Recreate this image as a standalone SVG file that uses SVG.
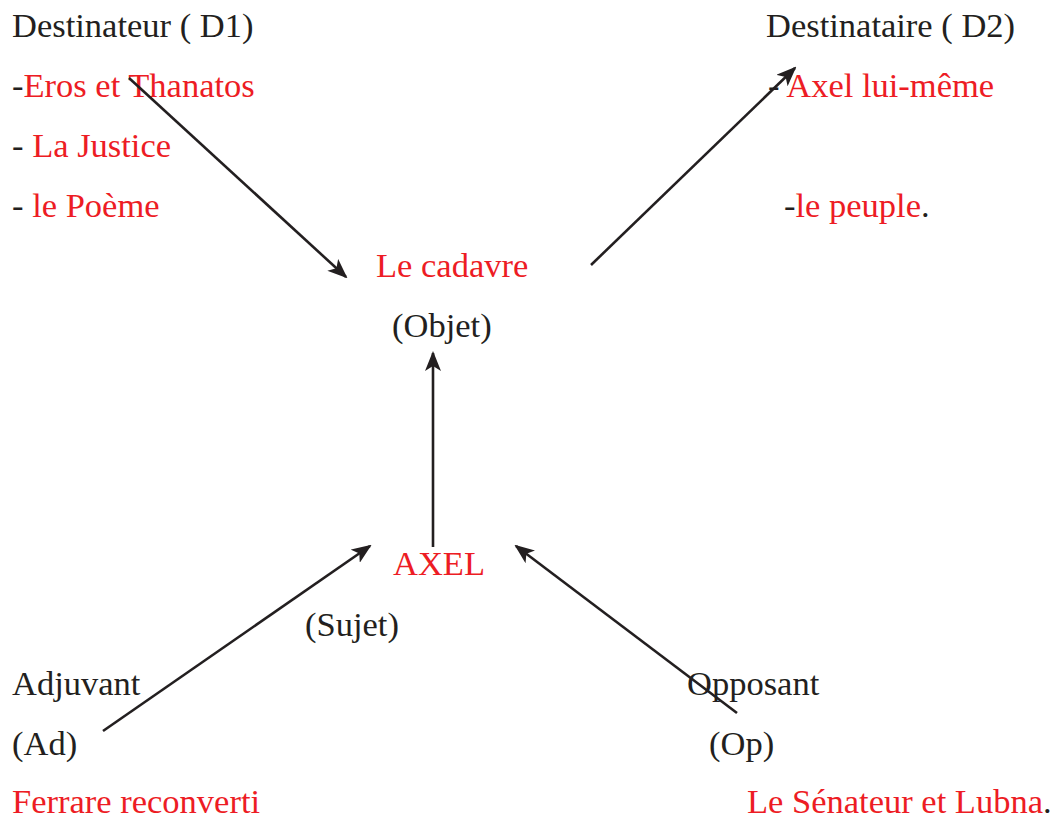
<svg xmlns="http://www.w3.org/2000/svg" width="1053" height="820" viewBox="0 0 1053 820">
<style>
text{font-family:"Liberation Serif","Times New Roman",serif;font-size:34.5px;fill:#231f20}
.r{fill:#ed1c24}
.c{stroke:#231f20;stroke-width:2.6;fill:none;marker-end:url(#ah)}
</style>
<defs>
<marker id="ah" markerWidth="20" markerHeight="16" refX="18" refY="8" orient="auto" markerUnits="userSpaceOnUse" viewBox="0 0 20 16">
<path d="M0,0 L20,8 L0,16 L5,8 Z" fill="#231f20"/>
</marker>
</defs>
<rect width="1053" height="820" fill="#fff"/>
<g id="destinateur">
<text x="12" y="37">Destinateur ( D1)</text>
<text x="12" y="97">-<tspan class="r">Eros et Thanatos</tspan></text>
<text x="12" y="157">- <tspan class="r">La Justice</tspan></text>
<text x="12" y="217">- <tspan class="r">le Poème</tspan></text>
</g>
<g id="destinataire">
<text x="766" y="37">Destinataire ( D2)</text>
<text x="768" y="97">- <tspan class="r">Axel lui-même</tspan></text>
<text x="784" y="217">-<tspan class="r">le peuple</tspan>.</text>
</g>
<g id="objet">
<text x="376" y="277" class="r">Le cadavre</text>
<text x="392" y="337">(Objet)</text>
</g>
<g id="sujet">
<text x="393" y="575" class="r">AXEL</text>
<text x="305" y="636">(Sujet)</text>
</g>
<g id="adjuvant">
<text x="12" y="695">Adjuvant</text>
<text x="12" y="755">(Ad)</text>
<text x="12" y="813" class="r">Ferrare reconverti</text>
</g>
<g id="opposant">
<text x="687" y="695">Opposant</text>
<text x="709" y="755">(Op)</text>
<text x="747" y="813"><tspan class="r">Le Sénateur et Lubna</tspan>.</text>
</g>
<g id="connectors">
<line class="c" x1="129" y1="78" x2="346" y2="277"/>
<line class="c" x1="591" y1="265" x2="795" y2="68"/>
<line class="c" x1="433" y1="547" x2="433" y2="353"/>
<line class="c" x1="103" y1="731" x2="370" y2="546"/>
<line class="c" x1="737" y1="713" x2="516" y2="546"/>
</g>
</svg>
